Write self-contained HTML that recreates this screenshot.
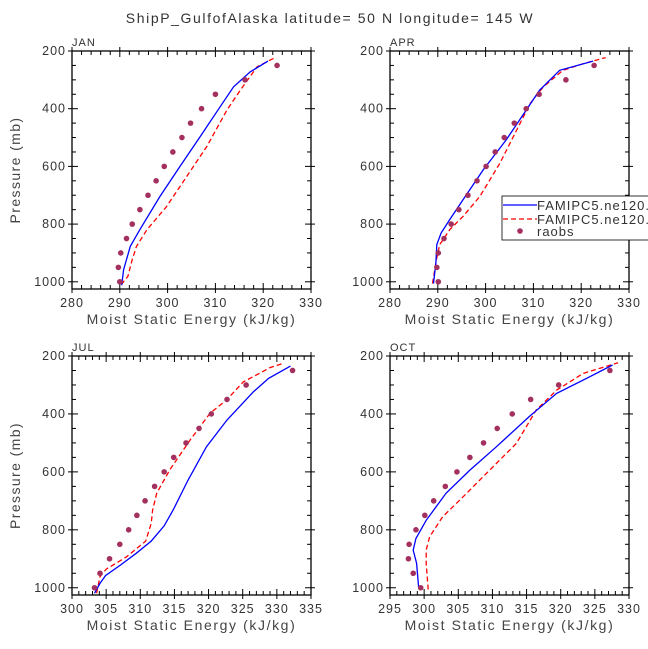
<!DOCTYPE html>
<html><head><meta charset="utf-8"><style>
body{margin:0;background:#fff}
svg{display:block;font-family:"Liberation Sans",sans-serif}
</style></head><body>
<svg id="c" width="648" height="649" viewBox="0 0 648 649">
<text x="330" y="23" text-anchor="middle" font-size="14" letter-spacing="1.6" fill="#333">ShipP_GulfofAlaska  latitude= 50 N longitude= 145 W</text>
</svg>
<script>
const janRaobsX=[290.0,289.7,290.2,291.4,292.6,294.2,295.9,297.6,299.3,301.1,303.0,304.8,307.1,310.0,316.2,322.9];
const janBlueX=[290.4,290.8,291.4,292.2,294.2,298.4,302.6,306.8,311.0,313.8,317.3,321.0];
const janBlueP=[1012,958,923,877,819,704,600,497,393,324,272,235];
const janRedX=[290.3,291.7,292.6,293.5,295.7,299.8,304.0,308.2,312.4,315.2,318.7,322.5];
const janRedP=[1010,981,923,877,819,739,635,531,405,336,255,223];
const aprRaobsX=[290.1,289.8,290.1,291.3,292.8,294.4,296.3,298.2,300.1,302.0,303.9,306.0,308.5,311.2,316.8,322.7];
const aprBlueX=[289.1,289.6,289.8,290.7,292.5,295.3,299.5,304.3,308.5,311.3,315.5,322.5];
const aprBlueP=[1006,934,871,831,784,715,612,508,405,336,267,235];
const aprRedX=[288.9,289.7,290.4,292.5,295.3,298.8,303.0,306.5,309.3,312.1,316.2,320.4,325.1];
const aprRedP=[1006,923,871,819,773,704,589,474,382,324,267,244,223];
const julRaobsX=[303.3,304.1,305.5,307.0,308.3,309.5,310.7,312.1,313.5,314.9,316.7,318.6,320.4,322.7,325.5,332.3];
const julBlueX=[303.3,304.1,304.9,307.0,309.4,311.6,313.5,314.8,317.0,319.7,322.7,326.6,328.8,332.0];
const julBlueP=[1019,985,958,923,881,839,786,732,628,513,421,323,277,235];
const julRedX=[303.6,304.1,305.0,308.0,310.8,311.6,311.8,312.4,314.3,317.3,320.2,322.7,325.1,327.6,329.0,331.1];
const julRedP=[1019,962,936,893,839,778,732,674,594,490,398,350,289,258,240,224];
const octRaobsX=[299.5,298.4,297.7,297.8,298.8,300.1,301.4,303.1,304.8,306.7,308.7,310.7,312.9,315.6,319.7,327.2];
const octBlueX=[299.2,298.9,298.4,298.8,300.3,303.2,306.7,310.6,315.4,319.4,323.8,327.6];
const octBlueP=[1002,916,870,830,767,674,594,513,409,329,277,231];
const octRedX=[300.6,300.3,300.3,300.8,302.7,305.7,309.6,313.5,316.4,319.4,323.3,328.4];
const octRedP=[1006,916,870,824,755,686,594,502,387,318,260,223];
const raobsP=[1000,950,900,850,800,750,700,650,600,550,500,450,400,350,300,250];
const yTicks=[200,400,600,800,1000];

const svg=document.getElementById('c');
const NS='http://www.w3.org/2000/svg';
function mk(t,a,parent){const e=document.createElementNS(NS,t);for(const k in a)e.setAttribute(k,a[k]);(parent||svg).appendChild(e);return e;}

const panels=[
 {id:'jan',label:'JAN',x0:72,x1:311,y0:51,y1:289,xmin:280,xmax:330,maj:10,min:2,ytitle:true,r:janRaobsX,b:[janBlueX,janBlueP],rd:[janRedX,janRedP]},
 {id:'apr',label:'APR',x0:390,x1:629,y0:51,y1:289,xmin:280,xmax:330,maj:10,min:2,ytitle:false,r:aprRaobsX,b:[aprBlueX,aprBlueP],rd:[aprRedX,aprRedP]},
 {id:'jul',label:'JUL',x0:72,x1:311,y0:356,y1:595,xmin:300,xmax:335,maj:5,min:1,ytitle:true,r:julRaobsX,b:[julBlueX,julBlueP],rd:[julRedX,julRedP]},
 {id:'oct',label:'OCT',x0:390,x1:629,y0:356,y1:595,xmin:295,xmax:330,maj:5,min:1,ytitle:false,r:octRaobsX,b:[octBlueX,octBlueP],rd:[octRedX,octRedP]}
];
panels.forEach(p=>{
 const g=mk('g',{});
 
 
 const sx=v=>p.x0+(v-p.xmin)/(p.xmax-p.xmin)*(p.x1-p.x0);
 const sy=v=>p.y0+(v-200)/(1025-200)*(p.y1-p.y0);
 const lab=mk('text',{x:p.x0,y:p.y0-5,'font-size':11,'letter-spacing':1,fill:'#333'},g);lab.textContent=p.label;
 
 
 const cp=mk('clipPath',{id:'cl'+p.id},g);mk('rect',{x:p.x0,y:p.y0,width:p.x1-p.x0,height:p.y1-p.y0},cp);
 for(let v=p.xmin;v<=p.xmax+1e-6;v+=p.min){
  const x=sx(v);const major=Math.abs((v-p.xmin)%p.maj)<1e-6||Math.abs((v-p.xmin)%p.maj-p.maj)<1e-6;
  const L=major?6:4;
  mk('line',{x1:x,x2:x,y1:p.y1+(major?4:0),y2:p.y1-L,stroke:'#000','stroke-width':1},g);
  mk('line',{x1:x,x2:x,y1:p.y0-(major?4:0),y2:p.y0+L,stroke:'#000','stroke-width':1},g);
  if(major){const t=mk('text',{x:x,y:p.y1+18,'text-anchor':'middle','font-size':12.5,'letter-spacing':1,fill:'#333'},g);t.textContent=Math.round(v);
   
   }
 }
 for(let v=200;v<=1000;v+=50){
  const y=sy(v);const major=v%200===0;const L=major?6:4;
  mk('line',{x1:p.x0-(major?4:0),x2:p.x0+L,y1:y,y2:y,stroke:'#000','stroke-width':1},g);
  mk('line',{x1:p.x1+(major?4:0),x2:p.x1-L,y1:y,y2:y,stroke:'#000','stroke-width':1},g);
 }
 yTicks.forEach(v=>{const t=mk('text',{x:p.x0-6,y:sy(v)+4,'text-anchor':'end','font-size':12.5,'letter-spacing':1,fill:'#333'},g);t.textContent=v;
  
  });
 mk('rect',{x:p.x0,y:p.y0,width:p.x1-p.x0,height:p.y1-p.y0,fill:'none',stroke:'#000','stroke-width':1.3},g);
 const xt=mk('text',{x:(p.x0+p.x1)/2,y:p.y1+35,'text-anchor':'middle','font-size':14,'letter-spacing':1.6,fill:'#444'},g);xt.textContent='Moist Static Energy (kJ/kg)';
 
 
 if(p.ytitle){const yt=mk('text',{x:0,y:0,'text-anchor':'middle','font-size':14,'letter-spacing':1.4,fill:'#444',transform:`translate(20,${(p.y0+p.y1)/2}) rotate(-90)`},g);yt.textContent='Pressure (mb)';
  
  }
 const line=(xs,ps,color,dash,name)=>{const d=xs.map((v,i)=>(i?'L':'M')+sx(v).toFixed(1)+','+sy(ps[i]).toFixed(1)).join('');
  const e=mk('path',{d:d,fill:'none',stroke:color,'stroke-width':1.3,'stroke-dasharray':dash||'','clip-path':`url(#cl${p.id})`},g);
  
  };
 line(p.rd[0],p.rd[1],'#f00','5,3',p.id+'-red-series');
 line(p.b[0],p.b[1],'#00f','',p.id+'-blue-series');
 p.r.forEach((v,i)=>{const c=mk('circle',{cx:sx(v),cy:sy(raobsP[i]),r:2.8,fill:'#a3305e'},g);
  
  });
});
const lg=mk('g',{});


mk('rect',{x:502,y:196,width:160,height:44,fill:'#fff',stroke:'#000','stroke-width':0.8},lg);
mk('line',{x1:503,x2:537,y1:205,y2:205,stroke:'#00f','stroke-width':1.3},lg);
mk('line',{x1:503,x2:537,y1:219,y2:219,stroke:'#f00','stroke-width':1.3,'stroke-dasharray':'5,3'},lg);
mk('circle',{cx:520,cy:231,r:2.8,fill:'#a3305e'},lg);
[['FAMIPC5.ne120.y',210],['FAMIPC5.ne120.y',224],['raobs',236]].forEach((t,i)=>{const e=mk('text',{x:537,y:t[1],'font-size':13,'letter-spacing':1,fill:'#333'},lg);e.textContent=t[0];
 
 });
</script>
</body></html>
